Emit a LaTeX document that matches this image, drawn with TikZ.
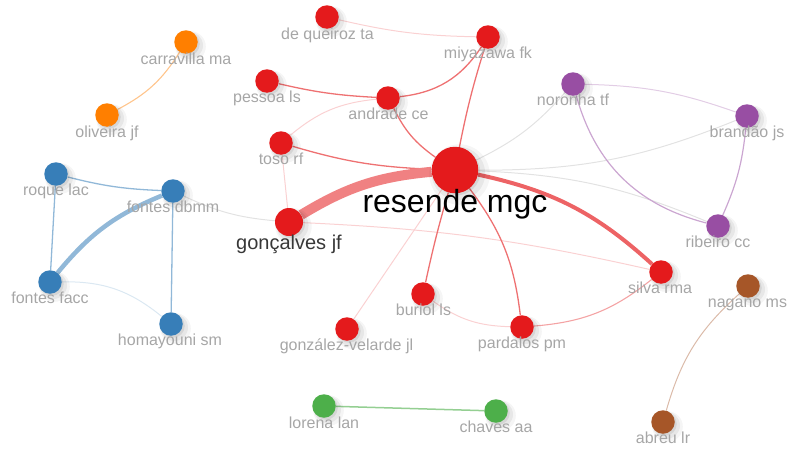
\documentclass[tikz,border=0pt]{standalone}
\usepackage{fontspec}
\setmainfont{Liberation Sans}
\usetikzlibrary{shadows}
\pgfdeclarelayer{bg}
\pgfsetlayers{bg,main}
\definecolor{cred}{HTML}{E41A1C}
\definecolor{cblue}{HTML}{377EB8}
\definecolor{cgreen}{HTML}{4DAF4A}
\definecolor{cpurple}{HTML}{984EA3}
\definecolor{corange}{HTML}{FF7F00}
\definecolor{cbrown}{HTML}{A65628}
\definecolor{lblgray}{HTML}{A6A6A6}
\definecolor{egray}{HTML}{E2E2E2}
\begin{document}
\begin{tikzpicture}[x=1pt,y=1pt,
  shd/.style={
    general shadow={fill=black,opacity=.04,shadow xshift=3.5pt,shadow yshift=-3.5pt,shadow scale=1.3},
    general shadow={fill=black,opacity=.06,shadow xshift=3pt,shadow yshift=-3pt,shadow scale=1.15},
    general shadow={fill=black,opacity=.08,shadow xshift=2pt,shadow yshift=-2pt}},
  nd/.style={circle, fill=#1, draw=none, inner sep=0pt, minimum size=23.5pt, shd},
  lb/.style={font=\fontsize{16}{18}\selectfont, text=lblgray, inner sep=0pt, anchor=base},
  es/.style={draw=cred!62!white, line width=1.3pt},
  em/.style={draw=cred!40!white, line width=1.1pt},
  ef/.style={draw=cred!20!white, line width=1pt},
  eg/.style={draw=egray, line width=1pt},
  ethick/.style={draw=cred!55!white, line width=10pt},
  esilva/.style={draw=cred!68!white, line width=4pt},
  ep/.style={draw=cpurple!50!white, line width=1.2pt},
  epf/.style={draw=cpurple!28!white, line width=1pt},
  eb/.style={draw=cblue!55!white, line width=1.3pt},
  ebthick/.style={draw=cblue!55!white, line width=4.5pt},
  ebf/.style={draw=cblue!18!white, line width=1pt},
  eo/.style={draw=corange!45!white, line width=1.1pt},
  egr/.style={draw=cgreen!60!white, line width=1.5pt},
  ebr/.style={draw=cbrown!40!white, line width=1pt}
]
\useasboundingbox (0,0) rectangle (788,-450);

% nodes
\node[nd=cred] (dq) at (327,-17) {};
\node[nd=cred] (mi) at (488,-37) {};
\node[nd=cred] (pe) at (267,-81) {};
\node[nd=cred] (an) at (388,-98) {};
\node[nd=cred] (to) at (281,-143) {};
\node[nd=cred, minimum size=28pt] (go) at (289,-222) {};
\node[nd=cred, minimum size=46.5pt] (re) at (455,-170) {};
\node[nd=corange] (ca) at (186,-42) {};
\node[nd=corange] (ol) at (107,-115) {};
\node[nd=cblue] (ro) at (56,-174) {};
\node[nd=cblue] (fd) at (173,-191) {};
\node[nd=cblue] (ff) at (50,-282) {};
\node[nd=cblue] (ho) at (171,-324) {};
\node[nd=cpurple] (no) at (573,-84) {};
\node[nd=cpurple] (br) at (747,-116) {};
\node[nd=cpurple] (ri) at (718,-226) {};
\node[nd=cred] (si) at (661,-272) {};
\node[nd=cbrown] (na) at (748,-286) {};
\node[nd=cred] (bu) at (423,-294) {};
\node[nd=cred] (pa) at (522,-327) {};
\node[nd=cred] (gv) at (347,-329) {};
\node[nd=cgreen] (lo) at (324,-406) {};
\node[nd=cgreen] (ch) at (496,-411) {};
\node[nd=cbrown] (ab) at (663,-422) {};

% edges
\begin{pgfonlayer}{bg}
\draw[ef] (dq) to[bend right=6] (mi);
\draw[es] (an) to[bend right=25] (mi);
\draw[es] (re) to[bend left=3] (mi);
\draw[es] (pe) to[bend right=5] (an);
\draw[es] (an) to[bend right=14] (re);
\draw[ef] (to) to[bend left=17] (an);
\draw[es] (to) to[bend right=7] (re);
\draw[ef] (to) -- (go);
\draw[ethick] (go) to[bend left=13] (re);
\draw[eg] (fd) to[bend right=10] (go);
\draw[ef] (go) to[bend left=5] (si);
\draw[esilva] (re) to[bend left=15] (si);
\draw[es] (re) to[bend right=2] (bu);
\draw[es] (re) to[bend left=15] (pa);
\draw[ef] (re) -- (gv);
\draw[eg] (re) to[bend right=11] (no);
\draw[eg] (re) to[bend right=11] (br);
\draw[eg] (re) to[bend left=10] (ri);
\draw[epf] (no) to[bend left=9] (br);
\draw[ep] (no) to[bend right=30] (ri);
\draw[ep] (br) to[bend left=9] (ri);
\draw[ef] (bu) to[bend right=17] (pa);
\draw[em] (pa) to[bend right=17] (si);
\draw[eo] (ol) to[bend right=15] (ca);
\draw[eb] (ro) to[bend right=6] (fd);
\draw[eb] (ro) -- (ff);
\draw[ebthick] (ff) to[bend left=14] (fd);
\draw[eb] (fd) -- (ho);
\draw[ebf] (ff) to[bend left=20] (ho);
\draw[egr] (lo) -- (ch);
\draw[ebr] (ab) to[bend left=16] (na);
\end{pgfonlayer}

% labels
\node[lb] (ldq) at (327.5,-39.5) {de queiroz ta};
\node[lb] (lmi) at (488,-58) {miyazawa fk};
\node[lb] (lpe) at (267,-102) {pessoa ls};
\node[lb] (lan) at (388.5,-119) {andrade ce};
\node[lb] (lto) at (281,-164) {toso rf};
\node[lb, font=\fontsize{20}{22}\selectfont, text=black!78] (lgo) at (289,-249) {gonçalves jf};
\node[lb, font=\fontsize{32}{34}\selectfont, text=black] (lre) at (455,-212) {resende mgc};
\node[lb] (lca) at (186,-64) {carravilla ma};
\node[lb] (lol) at (107,-137) {oliveira jf};
\node[lb] (lro) at (56,-195) {roque lac};
\node[lb] (lfd) at (173,-212) {fontes dbmm};
\node[lb] (lff) at (50,-303) {fontes facc};
\node[lb] (lho) at (170,-345) {homayouni sm};
\node[lb] (lno) at (573,-105.5) {noronha tf};
\node[lb] (lbr) at (747,-137) {brandão js};
\node[lb] (lri) at (718,-247) {ribeiro cc};
\node[lb] (lsi) at (660,-293) {silva rma};
\node[lb] (lna) at (747.5,-307) {nagano ms};
\node[lb] (lbu) at (423.5,-315.5) {buriol ls};
\node[lb] (lpa) at (522,-348) {pardalos pm};
\node[lb] (lgv) at (346.5,-350) {gonzález-velarde jl};
\node[lb] (llo) at (324,-428) {lorena lan};
\node[lb] (lch) at (496,-432) {chaves aa};
\node[lb] (lab) at (663,-443) {abreu lr};
\end{tikzpicture}
\end{document}
